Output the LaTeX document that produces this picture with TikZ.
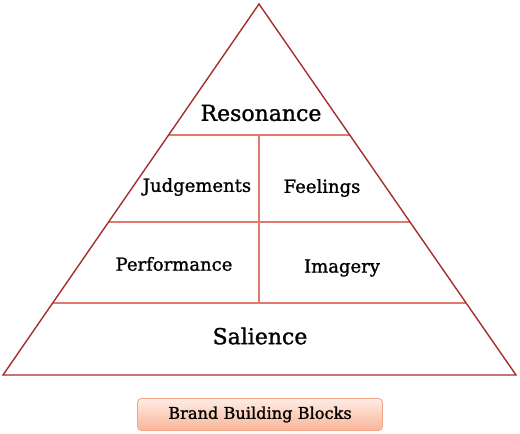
\documentclass[tikz,border=0pt]{standalone}
\usepackage{fontspec}
\setmainfont{DejaVu Serif}
\newfontfamily\heavyserif{DejaVu Serif}[FakeBold=1.2]
\definecolor{outerred}{HTML}{A3302E}
\definecolor{innerred}{HTML}{E07A70}
\definecolor{capborder}{HTML}{F2A488}
\definecolor{captop}{HTML}{FEEDE4}
\definecolor{capbot}{HTML}{F9B598}
\begin{document}
\begin{tikzpicture}[x=1pt,y=-1pt,
  outer/.style={draw=outerred,line width=1.4pt,line join=miter},
  inner/.style={draw=innerred,line width=1.1pt},
  lbl/.style={font=\heavyserif\fontsize{18}{21}\selectfont,text=black,inner sep=0pt},
  biglbl/.style={font=\heavyserif\fontsize{22}{26}\selectfont,text=black,inner sep=0pt},
  caption/.style={draw=capborder,line width=0.8pt,rounded corners=4pt,top color=captop,bottom color=capbot,minimum width=245pt,minimum height=32pt,font=\heavyserif\fontsize{16.2}{19}\selectfont,inner sep=0pt}]
\useasboundingbox (0,0) rectangle (520,434);
\coordinate (apex) at (259,4);
\coordinate (bl) at (3,375);
\coordinate (br) at (516,375);
\coordinate (l1) at (168.6,135); \coordinate (r1) at (349.6,135);
\coordinate (l2) at (108.5,222); \coordinate (r2) at (409.9,222);
\coordinate (l3) at (52.7,303); \coordinate (r3) at (466.1,303);
\coordinate (vt) at (259,135); \coordinate (vb) at (259,303);
\draw[inner] (l1) -- (r1);
\draw[inner] (l2) -- (r2);
\draw[inner] (l3) -- (r3);
\draw[inner] (vt) -- (vb);
\draw[outer] (apex) -- (br) -- (bl) -- cycle;
\node[biglbl] (res) at (261,113) {Resonance};
\node[lbl] (jud) at (197,187) {Judgements};
\node[lbl] (fee) at (322,188) {Feelings};
\node[lbl] (per) at (174,264) {Performance};
\node[lbl] (ima) at (342,268) {Imagery};
\node[biglbl] (sal) at (260,336) {Salience};
\node[caption] (cap) at (260,414.5) {Brand Building Blocks};
\end{tikzpicture}
\end{document}
